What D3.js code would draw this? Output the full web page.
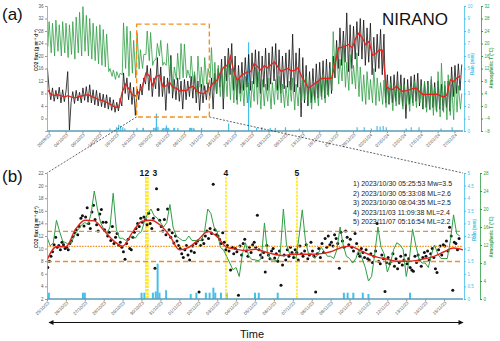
<!DOCTYPE html>
<html>
<head>
<meta charset="utf-8">
<script src="https://cdn.jsdelivr.net/npm/d3@7"></script>
<style>
  body { margin: 0; background: #fff; }
  svg { display: block; font-family: "Liberation Sans", Arial, sans-serif; }
</style>
</head>
<body>
<svg id="chart" width="500" height="341"></svg>
<script>
// ---- data ----
// panel (a): two samples per day from 28/09/23 12:00, CO2 flux (g m-2 d-1)
const fluxA = [
  16.0,9.5, 6.0,9.8, 5.5,9.0, 6.2,10.0, 5.0,9.2, 5.4,8.8, 15.0,-3.7, 5.2,8.6, 4.8,9.0, 5.6,8.4,
  5.0,9.8, 5.8,10.2, 5.2,10.8, 5.0,9.2, 4.4,9.0, 4.0,8.2, 3.8,7.8, 3.4,7.6, 3.0,6.8, 2.6,6.0,
  2.0,5.2, 2.4,6.5, 4.0,14.6, 8.0,13.0, 6.0,11.5, 4.5,10.0, 1.0,9.5, 6.0,11.0, 7.5,13.0, 11.0,17.0,
  9.0,16.0, 7.0,13.0, 9.5,19.5, 7.0,16.5, 7.0,13.5, 2.6,13.0, 8.0,20.2, 6.5,12.5, 6.0,13.0, 5.5,12.0,
  3.0,12.5, 6.0,12.0, 7.0,13.5, 6.5,14.0, 5.0,12.0, 2.6,11.0, 5.0,10.5, 6.0,11.5, 6.5,13.0, 3.0,14.5,
  8.0,16.0, 10.0,19.0, 3.0,20.0, 12.0,22.5, 14.0,24.0, 9.0,20.0, 6.0,17.0, 8.0,18.0, 9.0,19.5, 10.0,20.5,
  9.0,21.0, 11.0,22.0, 10.0,21.5, 8.0,20.0, 10.0,22.5, 9.0,21.0, 11.0,23.0, 12.0,24.0, 9.0,22.0, 8.0,20.0,
  9.5,21.0, 10.0,22.0, 9.0,27.0, 8.5,21.0, 10.0,22.5, 0.5,19.5, 5.0,17.0, 4.0,15.0, 5.0,16.0, 6.0,17.5,
  6.5,18.0, 7.0,18.5, 6.5,19.0, 7.5,18.0, 8.0,20.0, 13.0,25.0, 16.0,29.0, 17.0,28.0, 18.0,33.8, 15.0,30.0,
  16.0,29.5, 19.0,31.0, 20.0,32.0, 19.0,31.5, 17.0,29.0, 18.0,30.5, 14.0,26.0, 15.0,27.0, 16.0,28.5, 14.0,27.0,
  5.0,14.0, 4.5,13.5, 5.0,14.0, 5.5,15.0, 4.5,14.0, 4.0,13.0, 0.0,12.5, 4.5,13.5, 5.0,14.0, 5.5,14.5,
  4.0,12.5, 3.0,11.5, 3.5,12.0, 3.0,12.5, 3.5,11.5, 2.5,12.0, 3.0,11.0, 2.5,10.5, 3.5,12.0, 2.3,16.5,
  7.0,17.0, 8.0,17.5, 9.0,17.3
];
// panel (a): daily smoothed flux
const smoothA = [
  9.1, 7.6, 7.4, 7.6, 7.2, 6.9, 7.3, 6.8, 6.6, 6.9,
  7.2, 7.5, 7.6, 7.0, 6.6, 6.0, 5.8, 5.4, 4.8, 4.2,
  3.6, 3.6, 8.5, 11.0, 9.4, 7.6, 7.2, 8.6, 10.4, 14.5,
  13.7, 10.6, 13.5, 13.8, 10.2, 10.4, 11.6, 9.9, 9.7, 8.8,
  9.0, 8.9, 10.0, 10.3, 8.8, 8.2, 7.9, 8.7, 10.0, 11.5,
  12.2, 14.6, 16.4, 17.0, 19.9, 15.0, 12.2, 13.5, 14.3, 14.9,
  15.0, 17.6, 16.6, 15.5, 16.9, 16.2, 17.2, 18.1, 16.5, 15.0,
  15.6, 16.0, 15.2, 15.4, 16.2, 13.5, 11.8, 9.7, 10.4, 11.3,
  12.0, 12.8, 12.9, 12.8, 13.0, 18.0, 22.6, 22.8, 23.2, 23.7,
  22.6, 25.6, 27.4, 25.7, 23.6, 24.7, 20.2, 20.8, 22.0, 21.8,
  10.3, 9.5, 9.3, 10.3, 9.4, 8.6, 8.9, 9.2, 9.6, 9.7,
  8.5, 7.6, 7.7, 7.8, 7.7, 7.8, 7.3, 6.9, 7.6, 12.4,
  11.8, 13.0, 13.6
];
// panel (a): atmospheric T, night minimum and afternoon maximum per day (°C)
const tempA = [
  19,27, 17,26.5, 16,27.5, 17.5,26, 16,27, 17,26.5, 15.5,26, 16.5,27, 15,28.5, 17,30,
  16,31.8, 17.5,29, 16,28, 15,26.5, 14.5,25.5, 13.5,26, 13,24.5, 12.5,23, 11,12, 9.5,11.5,
  8.5,11, 9,10.5, 10,26.6, 12,25.5, 9.5,24, 10.5,21, 9,23.5, 11.8,18, 12,16.5, 16.5,24,
  14.5,23.5, 13,14.5, 15,20, 16,21, 13,14, 13,20, 9.5,15, 5,12.5, 8.5,16.9, 8.5,20,
  9,19.8, 9,11.5, 9,16, 7,11, 4,16, 6,12.5, 5,15.5, 7,12, 9,18.7, 5,14,
  4,13, 3,11.5, 2.5,12.5, 3,14, 2,12, 1,10, 0.5,9, 1.5,8.5, 0,9.5, 1,7.5,
  -0.5,8, 1.5,12.5, 0.5,11, -1,8.5, 0,7, 1.5,9, -1,7.5, 0.5,8.5, 2,9.5, 1,7,
  -0.5,6.5, 0,8, 1.5,9, -1.3,7, 0,6, 1,8.5, 2,9.5, 0.5,7.5, -1,6, 1,8,
  0,9, 2,10, 1,8.5, 3,12, 5,23.8, 9,18, 7,15, 8,19.9, 6,14, 5,16.5,
  7,13, 5.5,17, 3,12.5, 1.5,10, 0.5,11, 2,8.5, 1,12, 0.2,9, 1.5,7.5, 0.5,8.3,
  -0.5,6, 1,7.5, -1.5,5.5, 0,8, 0.8,6.5, -1,7, 0.5,5.2, -1.7,6, 0,8, -0.5,7,
  1,6.5, -1,8, -2,7, -1.3,9.5, -3,6, -2,11, -3.5,13.7, -2,8, -4.4,10, -3,7,
  -4.4,9, -2,6.5, -1,4
];
// panel (a): rain, [days after 28/09/23 12:00, mm]
const rainA = [
  [18.6,0.2],[20.6,0.3],[21.2,0.5],[21.8,0.4],[22.4,0.3],[23.0,0.2],
  [26.6,0.25],[28.4,0.25],[28.5,0.25],[31.5,0.25],[31.65,0.25],[32.1,0.25],[32.25,0.3],[32.35,1.4],
  [32.45,0.25],[32.8,0.35],[34.1,0.2],[34.4,0.25],[34.9,0.25],[35.1,0.25],[35.3,0.45],[35.4,0.25],
  [35.7,0.25],[36.0,0.25],[37.5,0.25],[37.7,0.25],[38.7,0.25],[42.2,0.25],[42.4,0.25],[42.7,0.25],
  [43.2,0.25],[43.5,0.2],[45.7,0.25],[53.7,0.6],[59.6,7.1],[62.0,0.25],[63.5,0.3],[66.0,0.25],
  [67.5,0.25],[70.5,0.3],[74.6,0.2],[91.7,0.3],[93.8,0.3],[95.9,0.2],[97.6,0.4],[98.5,0.35],
  [99.4,0.4],[100.3,0.3],[106.2,0.2],[107.7,0.3],[110.0,0.3],[116.5,0.2],[119.8,0.3]
];

// panel (b): CO2 flux every 2 h from 25/10/23 01:00
const fluxB = [
  7.0, 8.0, 8.8, 9.5, 10.6, 11.8, 10.2, 10.5, 9.8, 11.0, 10.6, 10.0,
  10.2, 9.8, 10.8, 11.2, 11.9, 12.5, 13.0, 12.2, 13.5, 14.8, 15.2, 13.6,
  15.0, 16.5, 14.0, 13.2, 15.8, 16.9, 14.6, 13.8, 12.8, 15.5, 16.2, 14.2,
  13.0, 14.2, 12.0, 12.6, 11.3, 13.5, 10.8, 11.8, 12.4, 10.5, 11.0, 10.2,
  9.5, 8.3, 10.8, 11.5, 10.0, 9.8, 11.8, 12.6, 13.2, 14.0, 13.5, 14.8,
  14.2, 15.0, 14.6, 13.8, 15.6, 14.0, 13.2, 14.8, 6.9, 19.5, 16.2, 14.5,
  13.5, 12.8, 14.6, 12.2, 16.3, 13.0, 11.8, 12.5, 10.9, 12.0, 11.2, 10.5,
  10.0, 9.2, 8.6, 9.8, 10.5, 9.0, 8.2, 9.6, 10.4, 9.4, 10.8, 11.2,
  3.1, 10.5, 11.4, 10.8, 12.0, 12.8, 11.6, 13.2, 12.4, 20.2, 13.0, 12.2,
  12.0, 11.5, 10.8, 12.5, 11.0, 9.8, 10.5, 9.6, 6.6, 10.2, 9.2, 10.0,
  9.5, 2.6, 10.4, 9.0, 10.8, 11.5, 9.6, 8.8, 10.2, 9.4, 10.6, 11.0,
  10.2, 15.3, 9.8, 9.0, 8.6, 9.4, 6.3, 10.5, 9.0, 8.4, 9.6, 10.0,
  8.5, 9.2, 8.0, 9.6, 4.2, 7.4, 9.0, 8.2, 9.8, 8.8, 10.2, 9.4,
  8.6, 9.8, 9.4, 8.2, 10.4, 9.2, 8.8, 9.6, 10.6, 8.4, 9.0, 11.0,
  9.6, 8.8, 3.1, 9.2, 10.0, 8.6, 10.8, 9.4, 11.6, 10.2, 12.0, 10.6,
  11.0, 10.4, 12.2, 11.6, 10.8, 6.9, 12.6, 11.2, 10.2, 12.8, 11.8, 10.6,
  11.5, 10.2, 9.6, 12.4, 10.8, 9.2, 8.8, 10.0, 9.4, 8.6, 9.8, 8.4,
  8.2, 9.2, 7.8, 8.8, 9.6, 14.0, 8.0, 7.6, 9.0, 8.4, 3.2, 7.8,
  8.6, 7.6, 8.0, 9.2, 7.2, 8.4, 6.8, 7.8, 8.8, 7.4, 8.2, 9.0,
  7.6, 8.4, 7.0, 6.6, 6.4, 8.8, 7.8, 9.0, 8.2, 7.2, 8.6, 9.4,
  8.8, 9.6, 8.2, 9.2, 10.0, 8.6, 6.8, 6.2, 9.8, 10.4, 9.0, 10.6,
  10.4, 11.2, 9.6, 13.4, 12.0, 3.4, 11.0, 10.8, 9.8, 11.6
];
// panel (b): smoothed flux every 12 h from 25/10/23 00:00
const smoothB = [
  8.2, 10.3, 10.3, 13.0, 14.5, 14.4, 12.9, 11.3, 10.4, 12.5,
  14.3, 14.5, 13.7, 12.0, 9.8, 10.2, 11.4, 12.7, 11.9, 10.2,
  9.9, 9.7, 9.9, 9.5, 9.1, 8.9, 9.1, 9.1, 9.1, 9.2,
  9.5, 10.1, 10.4, 9.8, 9.1, 8.6, 8.3, 8.0, 8.0, 8.1,
  8.4, 8.8, 9.5, 10.1, 9.8
];
// panel (b): atmospheric T every 4 h from 25/10/23 00:00 (°C)
const tempB = [
  13.8, 11.8, 12.5, 17.5, 15.0, 12.8,
  12.5, 12.0, 13.0, 14.5, 15.5, 16.5,
  17.0, 16.5, 19.0, 24.0, 20.0, 17.0,
  15.5, 14.5, 16.0, 23.5, 15.5, 13.5,
  13.5, 13.0, 13.5, 14.0, 13.5, 14.5,
  15.0, 17.5, 19.0, 20.0, 18.5, 18.0,
  17.0, 16.0, 17.0, 21.0, 16.0, 14.0,
  13.5, 13.0, 13.0, 14.0, 13.0, 13.0,
  13.0, 13.0, 15.0, 20.0, 19.0, 16.0,
  15.0, 11.5, 10.9, 9.5, 8.0, 6.5,
  7.0, 5.0, 10.0, 12.5, 9.5, 8.8,
  8.7, 8.5, 9.0, 16.9, 10.0, 8.7,
  8.7, 8.5, 10.0, 20.0, 12.0, 10.0,
  10.0, 9.0, 14.0, 19.8, 13.0, 10.0,
  10.0, 9.0, 10.0, 11.5, 10.5, 9.5,
  9.5, 9.0, 11.0, 16.0, 12.0, 9.5,
  9.0, 8.0, 9.0, 11.0, 9.0, 7.0,
  4.0, 5.0, 10.0, 16.0, 11.5, 10.0,
  6.0, 8.0, 11.0, 12.5, 12.0, 11.0,
  5.0, 9.0, 15.5, 12.0, 9.0, 8.0,
  8.0, 7.0, 10.0, 12.0, 10.0, 9.0,
  9.0, 9.0, 13.0, 18.7, 14.5, 14.0
];
// panel (b): rain, [days after 25/10/23 00:00, mm]
const rainB = [
  [0.1,0.25],[1.9,0.25],[2.0,0.25],[5.0,0.25],[5.15,0.25],[5.6,0.25],[5.75,0.3],[5.85,1.4],
  [5.95,0.25],[6.3,0.35],[7.6,0.2],[7.9,0.25],[8.4,0.25],[8.6,0.25],[8.8,0.45],[8.9,0.25],
  [9.2,0.25],[9.5,0.25],[11.0,0.25],[11.2,0.25],[12.2,0.25],[15.7,0.25],[15.9,0.25],
  [16.2,0.25],[16.7,0.25],[17.0,0.2],[19.2,0.25]
];
// flux mean and +/- one standard deviation in panel (b)
const fluxMean = 10.35, fluxUpper = 12.75, fluxLower = 7.95;

// earthquakes
const quakeTimes = [
  new Date(2023, 9, 30, 5, 25, 53), new Date(2023, 9, 30, 5, 33, 8), new Date(2023, 9, 30, 8, 4, 35),
  new Date(2023, 10, 3, 11, 9, 38), new Date(2023, 10, 7, 5, 16, 54)
];
const quakeLabels = ["1", "2", "3", "4", "5"];
const quakeText = [
  "1) 2023/10/30 05:25:53 Mw=3.5",
  "2) 2023/10/30 05:33:08 ML=2.6",
  "3) 2023/10/30 08:04:35 ML=2.5",
  "4) 2023/11/03 11:09:38 ML=2.4",
  "5) 2023/11/07 05:16:54 ML=2.2"
];

// ---- layout ----
const svg = d3.select("#chart");
const L = 47, R = 463;
const aTop = 6, aBot = 131, bTop = 173, bBot = 299;
const cBlack = "#111", cRed = "#e3241b", cGreen = "#2f9e44", cCyan = "#45c0ea",
      cOrange = "#f39020", cYellow = "#ffe81a", cAxis = "#999", cBase = "#5a9cb4";

const aStart = new Date(2023, 8, 28, 12), aEnd = new Date(2024, 0, 29, 12);
const bStart = new Date(2023, 9, 25), bEnd = new Date(2023, 10, 16);
const zoomEnd = new Date(2023, 10, 15, 12);

const xA = d3.scaleTime().domain([aStart, aEnd]).range([L, R]);
const yA = d3.scaleLinear().domain([-4, 36]).range([aBot, aTop]);
const yARain = d3.scaleLinear().domain([0, 10]).range([aBot, aTop]);
const yAT = d3.scaleLinear().domain([-8, 32]).range([aBot, aTop]);

const xB = d3.scaleTime().domain([bStart, bEnd]).range([L, R]);
const yB = d3.scaleLinear().domain([2, 22]).range([bBot, bTop]);
const yBRain = d3.scaleLinear().domain([0, 5]).range([bBot, bTop]);
const yBT = d3.scaleLinear().domain([0, 28]).range([bBot, bTop]);

const hrs = (base, h) => new Date(base.getTime() + h * 3600e3);
const fmtDate = d3.timeFormat("%d/%m/%y");

const defs = svg.append("defs");
[["clipA", aTop, aBot], ["clipB", bTop, bBot]].forEach(([id, t, b]) => {
  defs.append("clipPath").attr("id", id).append("rect")
    .attr("x", L).attr("y", t - 2).attr("width", R - L).attr("height", b - t + 2);
});
defs.append("marker").attr("id", "arrow").attr("viewBox", "0 0 10 10")
  .attr("refX", 9).attr("refY", 5).attr("markerWidth", 7).attr("markerHeight", 5)
  .attr("orient", "auto-start-reverse")
  .append("path").attr("d", "M0,0L10,5L0,10z").attr("fill", "#111");

// ---- generic axis helpers ----
function xAxis(x, y, ticks) {
  const g = svg.append("g").attr("transform", `translate(0,${y})`)
    .call(d3.axisBottom(x).tickValues(ticks).tickFormat(fmtDate).tickSize(2));
  g.select(".domain").remove();
  g.selectAll(".tick line").attr("stroke", cAxis);
  g.selectAll("text").attr("x", 0).attr("y", 0).attr("dy", "0.35em")
    .attr("transform", "translate(1,3) rotate(-45)")
    .style("text-anchor", "end").style("font-size", "4.5px").attr("fill", "#555");
  svg.append("line").attr("x1", L).attr("x2", R).attr("y1", y).attr("y2", y)
    .attr("stroke", cBase).attr("stroke-width", 1.5);
}
function yAxis(axis, xPos, color, vals, fmt) {
  const g = svg.append("g").attr("transform", `translate(${xPos},0)`)
    .call(axis.tickValues(vals).tickFormat(fmt || d3.format("~g")).tickSize(2).tickPadding(1.5));
  g.select(".domain").attr("stroke", color).attr("stroke-width", 0.8);
  g.selectAll(".tick line").attr("stroke", color);
  g.selectAll("text").style("font-size", "4.5px").attr("fill", color === cAxis ? "#555" : color);
}
function vLabel(x, y, text, color, size) {
  svg.append("text").attr("transform", `translate(${x},${y}) rotate(-90)`)
    .attr("text-anchor", "middle").style("font-size", size + "px").style("font-weight", "bold")
    .attr("fill", color).text(text);
}

// ================= panel (a) =================
const gA = svg.append("g").attr("clip-path", "url(#clipA)");

gA.selectAll("rect.rain").data(rainA).join("rect").attr("class", "rain")
  .attr("x", d => xA(hrs(aStart, d[0] * 24)) - 0.6).attr("width", 1.2)
  .attr("y", d => yARain(d[1])).attr("height", d => aBot - yARain(d[1]))
  .attr("fill", cCyan);

gA.append("path").datum(fluxA)
  .attr("d", d3.line().x((d, i) => xA(hrs(aStart, i * 12 + 3))).y(d => yA(d)))
  .attr("fill", "none").attr("stroke", cBlack).attr("stroke-width", 0.8);

gA.append("path").datum(tempA)
  .attr("d", d3.line().x((d, i) => xA(hrs(aStart, Math.floor(i / 2) * 24 + (i % 2 ? 15 : 6)))).y(d => yAT(d)))
  .attr("fill", "none").attr("stroke", cGreen).attr("stroke-width", 0.8);

gA.append("path").datum(smoothA)
  .attr("d", d3.line().x((d, i) => xA(hrs(aStart, i * 24 + 6))).y(d => yA(d)))
  .attr("fill", "none").attr("stroke", cRed).attr("stroke-width", 1.3);

xAxis(xA, aBot, d3.range(0, 121, 5).map(k => d3.timeDay.offset(new Date(2023, 8, 29), k)));
yAxis(d3.axisLeft(yA), L, cAxis, d3.range(0, 37, 4));
yAxis(d3.axisRight(yARain), R + 1, cCyan, d3.range(0, 11, 1));
yAxis(d3.axisRight(yAT), R + 18, cGreen, d3.range(-8, 33, 4));
vLabel(38, 50, "CO2 flux (g m⁻² d⁻¹)", "#222", 4.5);
vLabel(474, 64, "Rain (mm)", cCyan, 4.5);
vLabel(493, 68, "Atmospheric T (°C)", cGreen, 4.5);

// zoom window and connectors
const bx0 = xA(bStart), bx1 = xA(zoomEnd), by0 = yA(30.2), by1 = yA(0.5);
svg.append("rect").attr("x", bx0).attr("y", by0).attr("width", bx1 - bx0).attr("height", by1 - by0)
  .attr("fill", "none").attr("stroke", cOrange).attr("stroke-width", 1.4).attr("stroke-dasharray", "5,3");
[[bx0, L], [bx1, R]].forEach(([x1, x2]) => {
  svg.append("line").attr("x1", x1).attr("y1", by1).attr("x2", x2).attr("y2", bTop)
    .attr("stroke", "#222").attr("stroke-width", 0.7).attr("stroke-dasharray", "2,1.5");
});

svg.append("text").attr("x", 2).attr("y", 20).style("font-size", "17px").attr("fill", "#111").text("(a)");
svg.append("text").attr("x", 415).attr("y", 25).attr("text-anchor", "middle")
  .style("font-size", "17px").attr("fill", "#111").text("NIRANO");

// ================= panel (b) =================
const gB = svg.append("g").attr("clip-path", "url(#clipB)");

gB.selectAll("rect.rain").data(rainB).join("rect").attr("class", "rain")
  .attr("x", d => xB(hrs(bStart, d[0] * 24)) - 1).attr("width", 2)
  .attr("y", d => yBRain(d[1])).attr("height", d => bBot - yBRain(d[1]))
  .attr("fill", cCyan);

gB.selectAll("line.quake").data(quakeTimes).join("line").attr("class", "quake")
  .attr("x1", d => xB(d)).attr("x2", d => xB(d)).attr("y1", bTop + 4).attr("y2", bBot)
  .attr("stroke", cYellow).attr("stroke-width", 1.6).attr("stroke-dasharray", "2.5,1");

gB.selectAll("circle.pt").data(fluxB).join("circle").attr("class", "pt")
  .attr("cx", (d, i) => xB(hrs(bStart, i * 2 + 1))).attr("cy", d => yB(d)).attr("r", 1.5)
  .attr("fill", "#111");

[[fluxUpper, "5,3"], [fluxLower, "5,3"], [fluxMean, "1.5,1.2"]].forEach(([v, dash]) => {
  gB.append("line").attr("x1", L).attr("x2", R).attr("y1", yB(v)).attr("y2", yB(v))
    .attr("stroke", cOrange).attr("stroke-width", 1.3).attr("stroke-dasharray", dash);
});

gB.append("path").datum(tempB)
  .attr("d", d3.line().x((d, i) => xB(hrs(bStart, i * 4))).y(d => yBT(d)))
  .attr("fill", "none").attr("stroke", cGreen).attr("stroke-width", 1);

gB.append("path").datum(smoothB)
  .attr("d", d3.line().curve(d3.curveMonotoneX).x((d, i) => xB(hrs(bStart, i * 12))).y(d => yB(d)))
  .attr("fill", "none").attr("stroke", cRed).attr("stroke-width", 1.4);

const qdx = [-4, 1, 7, 0, 0];
svg.selectAll("text.qlab").data(quakeTimes).join("text").attr("class", "qlab")
  .attr("x", (d, i) => xB(d) + qdx[i]).attr("y", bTop + 3).attr("text-anchor", "middle")
  .style("font-size", "8.5px").style("font-weight", "bold").attr("fill", "#111")
  .text((d, i) => quakeLabels[i]);

svg.selectAll("text.qtxt").data(quakeText).join("text").attr("class", "qtxt")
  .attr("x", 353).attr("y", (d, i) => 186 + i * 9.5)
  .style("font-size", "7px").attr("fill", "#222").text(d => d);

xAxis(xB, bBot, d3.timeDay.range(bStart, new Date(2023, 10, 15, 1)));
yAxis(d3.axisLeft(yB), L, cAxis, d3.range(2, 23, 2));
yAxis(d3.axisRight(yBRain), R + 1, cCyan, d3.range(0, 5.01, 0.5));
yAxis(d3.axisRight(yBT), R + 17, cGreen, d3.range(0, 29, 4));
vLabel(38, 227, "CO2 flux (g m⁻² d⁻¹)", "#222", 4.5);
vLabel(476, 230, "Rain (mm)", cCyan, 4.5);
vLabel(493, 237, "Atmospheric T (°C)", cGreen, 4.5);

svg.append("text").attr("x", 2).attr("y", 182).style("font-size", "17px").attr("fill", "#111").text("(b)");

// time arrow
svg.append("line").attr("x1", L + 2).attr("x2", R).attr("y1", 322.5).attr("y2", 322.5)
  .attr("stroke", "#111").attr("stroke-width", 1)
  .attr("marker-start", "url(#arrow)").attr("marker-end", "url(#arrow)");
svg.append("text").attr("x", 252).attr("y", 338).attr("text-anchor", "middle")
  .style("font-size", "11px").attr("fill", "#111").text("Time");
</script>
</body>
</html>
